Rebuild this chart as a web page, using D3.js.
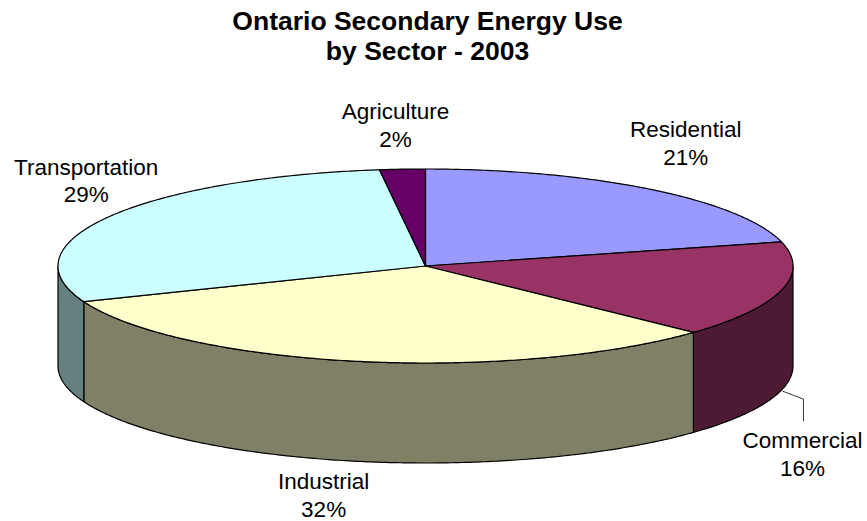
<!DOCTYPE html>
<html>
<head>
<meta charset="utf-8">
<script src="https://cdn.jsdelivr.net/npm/d3@7"></script>
<style>
  html, body { margin: 0; padding: 0; background: #fff; }
  svg { display: block; font-family: "Liberation Sans", Arial, sans-serif; }
</style>
</head>
<body>
<svg id="chart" width="867" height="521"></svg>
<script>
// Sector shares of secondary energy use, clockwise from 12 o'clock
const categories = ["Residential", "Commercial", "Industrial", "Transportation", "Agriculture"];
const shares = [21, 16, 32, 29, 2];
const colors = ["#9999FF", "#993366", "#FFFFCC", "#CCFFFF", "#660066"];
const titleLines = ["Ontario Secondary Energy Use", "by Sector - 2003"];

// Tilted-disc geometry
const W = 867, H = 521;
const cx = 425.5, cy = 266, rx = 367.5, ry = 97, depth = 100;
// Label offsets from the rim point at each slice's middle angle
const labelNudge = [[35, -52], [21, 58], [-33, 28], [-23, -42], [-7, -50]];

const svg = d3.select("#chart");

const color = d3.scaleOrdinal().domain(categories).range(colors);
const sideColor = c => {
  const k = d3.rgb(c);
  return d3.rgb(k.r * 0.5, k.g * 0.5, k.b * 0.5).formatHex();
};

const pie = d3.pie().sort(null).value(d => d.value).startAngle(0).endAngle(2 * Math.PI);
const data = categories.map((c, i) => ({ name: c, value: shares[i] }));
const arcs = pie(data);

const px = a => cx + rx * Math.sin(a);
const py = a => cy - ry * Math.cos(a);
const rimPoints = (a0, a1, dy = 0) => {
  const n = Math.max(2, Math.ceil(Math.abs(a1 - a0) / 0.01));
  return d3.range(n + 1).map(i => {
    const a = a0 + (a1 - a0) * i / n;
    return [px(a), py(a) + dy];
  });
};
const line = d3.line();

// Visible outer wall: front half of the disc (angles PI/2 .. 3PI/2)
const gSide = svg.append("g");
arcs.forEach(d => {
  const a0 = Math.max(d.startAngle, Math.PI / 2);
  const a1 = Math.min(d.endAngle, 3 * Math.PI / 2);
  if (a1 <= a0) return;
  const pts = rimPoints(a0, a1).concat(rimPoints(a1, a0, depth));
  gSide.append("path")
    .attr("d", line(pts) + "Z")
    .attr("fill", sideColor(color(d.data.name)))
    .attr("stroke", "#000")
    .attr("stroke-width", 1.2)
    .attr("stroke-linejoin", "round");
});

// Top faces
const gTop = svg.append("g");
arcs.forEach(d => {
  const pts = [[cx, cy]].concat(rimPoints(d.startAngle, d.endAngle));
  gTop.append("path")
    .attr("d", line(pts) + "Z")
    .attr("fill", color(d.data.name))
    .attr("stroke", "#000")
    .attr("stroke-width", 1.2)
    .attr("stroke-linejoin", "round");
});

// Data labels
const total = d3.sum(shares);
const gLab = svg.append("g").attr("font-size", 22.5).attr("fill", "#000").attr("text-anchor", "middle");
arcs.forEach((d, i) => {
  const m = (d.startAngle + d.endAngle) / 2;
  const front = m > Math.PI / 2 && m < 3 * Math.PI / 2;
  const bx = px(m), by = py(m) + (front ? depth : 0);
  const tx = bx + labelNudge[i][0], ty = by + labelNudge[i][1];
  const t = gLab.append("text").attr("x", tx).attr("y", ty);
  t.append("tspan").attr("x", tx).text(d.data.name);
  t.append("tspan").attr("x", tx).attr("dy", 27.5).text(Math.round(d.value / total * 100) + "%");
  if (d.data.name === "Commercial") {
    // leader from the rim to the label
    gLab.append("path")
      .attr("d", line([[bx + 1, by + 1], [tx + 1, by + 9], [tx + 1, ty - 27]]))
      .attr("fill", "none").attr("stroke", "#000").attr("stroke-width", 0.8);
  }
});

// Title
svg.append("text")
  .attr("x", W / 2 - 6).attr("y", 30)
  .attr("text-anchor", "middle")
  .attr("font-size", 26.5).attr("font-weight", "bold")
  .selectAll("tspan").data(titleLines).join("tspan")
  .attr("x", W / 2 - 6).attr("dy", (d, i) => i ? 30 : 0)
  .text(d => d);
</script>
</body>
</html>
